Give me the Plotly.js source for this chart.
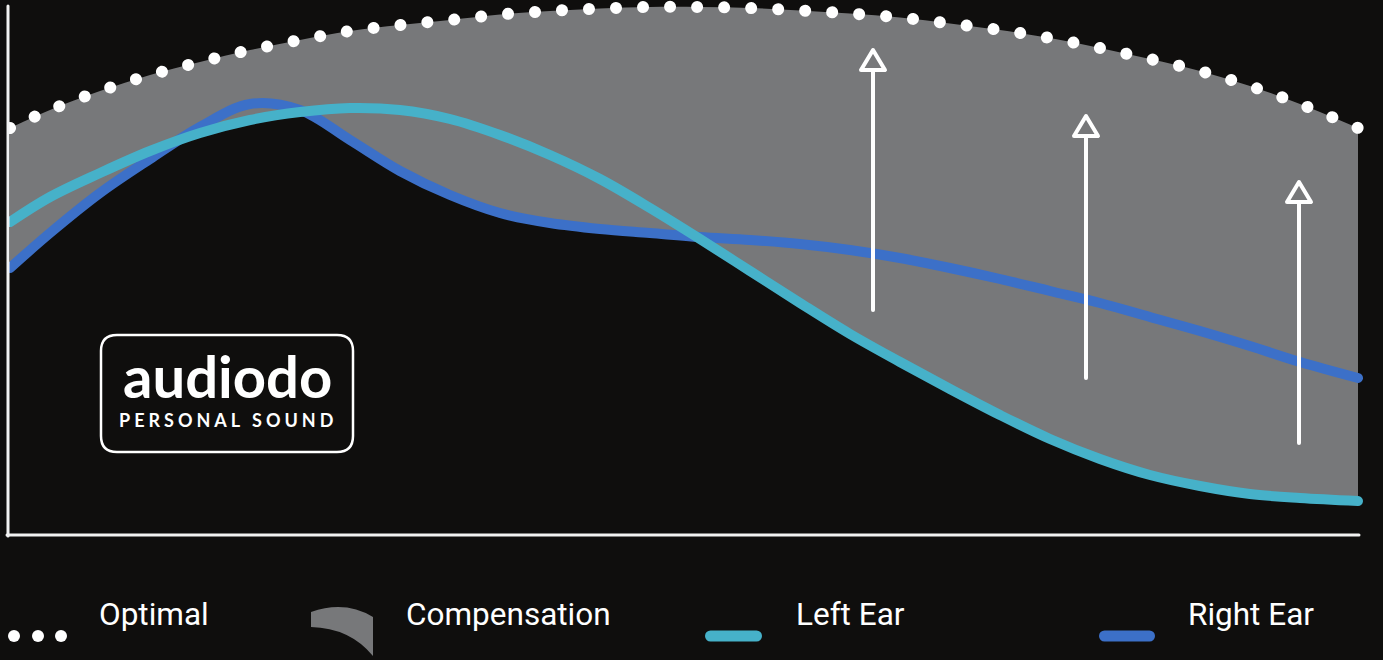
<!DOCTYPE html>
<html>
<head>
<meta charset="utf-8">
<script src="https://cdn.plot.ly/plotly-3.0.1.min.js"></script>
<style>
html, body { margin: 0; padding: 0; background: #0f0e0d; }
#chart { width: 1383px; height: 660px; }
.scatterlayer .js-line { stroke-linecap: round; stroke-linejoin: round; }
.shapelayer path { stroke-linejoin: round; stroke-linecap: round; }
.annotation[data-index="5"] text { letter-spacing: 4px; }
</style>
</head>
<body>
<div id="chart"></div>
<script>
// ---- data (arbitrary level units) ----
const freq = [10, 50, 100, 150, 200, 250, 300, 350, 400, 450, 500, 550, 600, 650,
              700, 750, 800, 850, 900, 950, 1000, 1050, 1100, 1150, 1200, 1250, 1300, 1358];
const optimal = [407, 425, 444, 460, 473, 485, 495, 504, 510, 515, 520.5, 524, 526.5, 528,
                 528, 527, 524.5, 521.5, 517.5, 511.5, 505, 497, 487, 476, 464, 449, 431, 407];
const leftEar = [313, 338, 362, 384, 402, 415, 423, 427, 425, 416, 400, 380, 356, 327,
                 296, 264, 232, 201, 173, 146, 120, 96, 76, 60, 49, 41, 37, 34];
const rightEar = [267, 302, 342, 376, 408, 431, 425, 395, 364, 340, 322, 312, 306, 302,
                  298, 295, 291, 285, 277, 267, 256, 244, 232, 218, 204, 189, 173, 157];

const arrowX = [873, 1086, 1299];
const arrowFrom = [225, 157, 92];
const arrowTo = [485, 419, 353];

const legendLabels = ['Optimal', 'Compensation', 'Left Ear', 'Right Ear'];
const logoTitle = 'audiodo';
const logoSubtitle = 'PERSONAL SOUND';

// ---- styling ----
const BG = '#0f0e0d';
const GRAY = '#77787a';
const CYAN = '#46b1c9';
const BLUE = '#3c70c8';
const WHITE = '#ffffff';

// lower envelope of both ears (compensation starts where the weaker ear is)
const lowerEnvelope = leftEar.map((v, i) => Math.min(v, rightEar[i]));

const data = [
  { x: freq, y: lowerEnvelope, mode: 'lines', line: { width: 0, shape: 'spline' },
    showlegend: false, hoverinfo: 'skip' },
  { x: freq, y: optimal, mode: 'lines', name: legendLabels[1], fill: 'tonexty',
    fillcolor: GRAY, line: { width: 0, shape: 'spline' }, showlegend: false, hoverinfo: 'skip' },
  { x: freq, y: rightEar, mode: 'lines', name: legendLabels[3],
    line: { color: BLUE, width: 10, shape: 'spline' }, showlegend: false },
  { x: freq, y: leftEar, mode: 'lines', name: legendLabels[2],
    line: { color: CYAN, width: 10, shape: 'spline' }, showlegend: false },
  { x: freq, y: optimal, mode: 'lines', name: legendLabels[0],
    line: { color: WHITE, width: 12, shape: 'spline', dash: '0px,27px' }, showlegend: false }
];

// plot area geometry (pixels)
const ML = 8, MT = 0, PW = 1362, PH = 535;
const px = v => (v - ML) / PW;
const py = v => (MT + PH - v) / PH;

const shapes = [];
// axes
shapes.push({ type: 'line', xref: 'paper', yref: 'paper', x0: px(8), x1: px(8), y0: py(6), y1: py(536),
  line: { color: '#f2f2f2', width: 3 } });
shapes.push({ type: 'line', xref: 'paper', yref: 'paper', x0: px(7), x1: px(1359), y0: py(535), y1: py(535),
  line: { color: '#f2f2f2', width: 3 } });

// arrows
arrowX.forEach((x, i) => {
  const base = arrowTo[i] - 20;
  shapes.push({ type: 'line', xref: 'x', yref: 'y', x0: x, x1: x, y0: arrowFrom[i], y1: base,
    line: { color: WHITE, width: 4 } });
  shapes.push({ type: 'path', xref: 'x', yref: 'y',
    path: `M ${x},${arrowTo[i]} L ${x + 12},${base} L ${x - 12},${base} Z`,
    fillcolor: GRAY, line: { color: WHITE, width: 4 } });
});

// logo box
(function () {
  const x0 = 101, x1 = 353, y0 = 335, y1 = 452, r = 16;
  const P = (a, b) => `${px(a)},${py(b)}`;
  shapes.push({ type: 'path', xref: 'paper', yref: 'paper',
    path: `M ${P(x0 + r, y0)} L ${P(x1 - r, y0)} Q ${P(x1, y0)} ${P(x1, y0 + r)} L ${P(x1, y1 - r)} ` +
          `Q ${P(x1, y1)} ${P(x1 - r, y1)} L ${P(x0 + r, y1)} Q ${P(x0, y1)} ${P(x0, y1 - r)} ` +
          `L ${P(x0, y0 + r)} Q ${P(x0, y0)} ${P(x0 + r, y0)} Z`,
    line: { color: WHITE, width: 2.5 }, fillcolor: 'rgba(0,0,0,0)' });
})();

// legend symbols
const LY = 636;
[14, 38, 61].forEach(cx => {
  shapes.push({ type: 'circle', xref: 'paper', yref: 'paper',
    x0: px(cx - 6), x1: px(cx + 6), y0: py(LY + 6), y1: py(LY - 6),
    fillcolor: WHITE, line: { width: 0 } });
});
(function () {
  const P = (a, b) => `${px(a)},${py(b)}`;
  shapes.push({ type: 'path', xref: 'paper', yref: 'paper',
    path: `M ${P(311, 612)} Q ${P(345, 600)} ${P(373, 617)} L ${P(373, 656)} Q ${P(350, 628)} ${P(311, 627)} Z`,
    fillcolor: GRAY, line: { width: 0 } });
})();
shapes.push({ type: 'line', xref: 'paper', yref: 'paper', x0: px(710.5), x1: px(756.5), y0: py(LY), y1: py(LY),
  line: { color: CYAN, width: 11 } });
shapes.push({ type: 'line', xref: 'paper', yref: 'paper', x0: px(1104.5), x1: px(1149.5), y0: py(LY), y1: py(LY),
  line: { color: BLUE, width: 11 } });

// annotations
const legendX = [99, 406, 796, 1188];
const annotations = legendLabels.map((t, i) => ({
  text: t, xref: 'paper', yref: 'paper', x: px(legendX[i] - 2), y: py(614),
  xanchor: 'left', yanchor: 'middle', showarrow: false,
  font: { family: 'Roboto, Arial, sans-serif', size: 31.5, color: WHITE }
}));
annotations.push({ text: logoTitle, xref: 'paper', yref: 'paper', x: px(227), y: py(375),
  xanchor: 'center', yanchor: 'middle', showarrow: false,
  font: { family: 'Lato, sans-serif', size: 58, color: WHITE, weight: 700 } });
annotations.push({ text: logoSubtitle, xref: 'paper', yref: 'paper', x: px(228), y: py(420),
  xanchor: 'center', yanchor: 'middle', showarrow: false,
  font: { family: 'Lato, sans-serif', size: 18, color: WHITE, weight: 700 } });

const layout = {
  width: 1383, height: 660,
  margin: { l: ML, r: 1383 - ML - PW, t: MT, b: 660 - MT - PH, pad: 0 },
  paper_bgcolor: BG, plot_bgcolor: BG,
  showlegend: false,
  font: { family: 'Roboto, Arial, sans-serif', color: WHITE },
  xaxis: { range: [8, 1370], showgrid: false, zeroline: false, showline: false,
           showticklabels: false, ticks: '', fixedrange: true },
  yaxis: { range: [0, 535], showgrid: false, zeroline: false, showline: false,
           showticklabels: false, ticks: '', fixedrange: true },
  shapes: shapes,
  annotations: annotations
};

Plotly.newPlot('chart', data, layout, { displayModeBar: false, staticPlot: true }).then(gd => {
  const traces = gd.querySelectorAll('.scatterlayer .trace');
  const p = traces[4] && traces[4].querySelector('.js-line');
  if (p) {
    const L = p.getTotalLength();
    const n = Math.round(L / 27);
    const step = (L - 0.5) / n;
    p.style.strokeDasharray = '0.01px,' + (step - 0.01) + 'px';
  }
});
</script>
</body>
</html>
